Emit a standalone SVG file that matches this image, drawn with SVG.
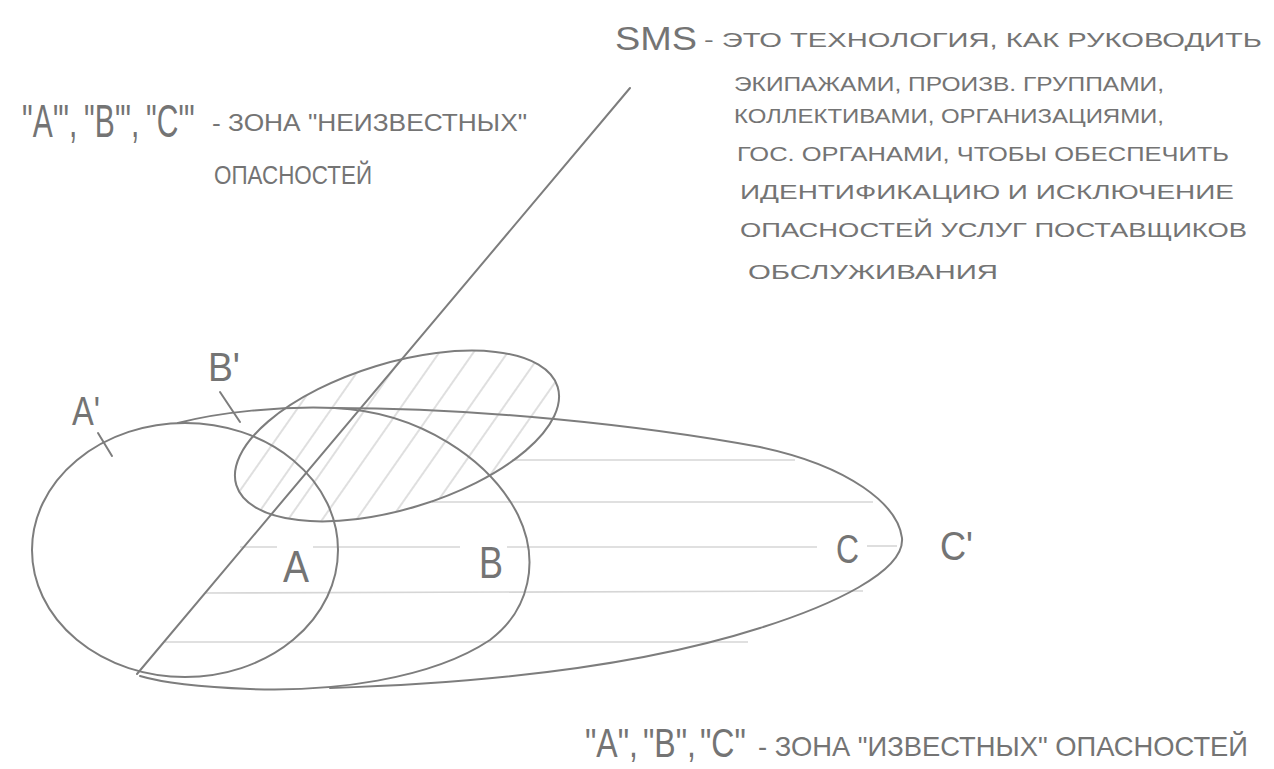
<svg xmlns="http://www.w3.org/2000/svg" width="1274" height="769" viewBox="0 0 1274 769">
<style>
.ln{fill:none;stroke:#7d7d7d;stroke-width:2;stroke-linecap:round}
.hl{fill:none;stroke:#d6d6d6;stroke-width:1.6}
.t{font-family:"Liberation Sans","DejaVu Sans",sans-serif;fill:#747474}
</style>
<defs>
<pattern id="hatch" width="28" height="20" patternUnits="userSpaceOnUse" patternTransform="rotate(35)">
<line x1="2" y1="0" x2="2" y2="20" stroke="#d4d4d4" stroke-width="1.5"/>
</pattern>
<clipPath id="bpclip"><ellipse cx="397" cy="436" rx="168" ry="73" transform="rotate(-17 397 436)"/></clipPath>
</defs>
<rect width="1274" height="769" fill="#fff"/>

<g id="hatching">
<rect x="220" y="330" width="360" height="210" fill="url(#hatch)" clip-path="url(#bpclip)"/>
<line class="hl" x1="512" y1="460" x2="795" y2="460"/>
<line class="hl" x1="432" y1="502" x2="873" y2="502"/>
<line class="hl" x1="240" y1="547" x2="277" y2="547"/>
<line class="hl" x1="313" y1="547" x2="460" y2="547"/>
<line class="hl" x1="507" y1="547" x2="817" y2="547"/>
<line class="hl" x1="867" y1="546" x2="897" y2="546"/>
<line class="hl" x1="205" y1="593" x2="863" y2="591"/>
<line class="hl" x1="165" y1="642" x2="748" y2="642"/>
</g>

<g id="zone-A">
<ellipse class="ln" cx="185" cy="550" rx="153" ry="127"/>
<text class="t" x="283" y="582" font-size="44" textLength="26" lengthAdjust="spacingAndGlyphs">A</text>
</g>
<g id="zone-B">
<path class="ln" d="M178,423 C220,412 280,406 335,408 C420,412 490,460 518,515 C540,560 530,610 490,640 C430,680 330,692 250,689 C200,687 160,682 140,676"/>
<text class="t" x="479" y="578" font-size="44" textLength="24" lengthAdjust="spacingAndGlyphs">B</text>
</g>
<g id="zone-C">
<path class="ln" d="M333,408 C480,408 640,425 760,447 C850,466 898,505 902,538 C905,572 830,606 760,628 C660,660 520,682 330,688"/>
<text class="t" x="836" y="563" font-size="40" textLength="23" lengthAdjust="spacingAndGlyphs">C</text>
</g>
<g id="zone-Bprime">
<ellipse class="ln" cx="397" cy="436" rx="168" ry="73" transform="rotate(-17 397 436)"/>
</g>
<g id="label-Aprime">
<text class="t" x="72" y="425" font-size="40" textLength="28" lengthAdjust="spacingAndGlyphs">A'</text>
</g>
<g id="label-Bprime">
<text class="t" x="208" y="381" font-size="40" textLength="32" lengthAdjust="spacingAndGlyphs">B'</text>
</g>
<g id="label-Cprime">
<text class="t" x="940" y="560" font-size="40" textLength="33" lengthAdjust="spacingAndGlyphs">C'</text>
</g>

<g id="connectors">
<line class="ln" x1="630" y1="88" x2="137" y2="674"/>
<line class="ln" x1="98" y1="433" x2="112" y2="456"/>
<line class="ln" x1="220" y1="392" x2="240" y2="422"/>
</g>

<g id="sms-note">
<text class="t" x="615" y="50" font-size="34" textLength="82" lengthAdjust="spacingAndGlyphs">SMS</text>
<text class="t" x="704" y="47" font-size="21" textLength="558" lengthAdjust="spacingAndGlyphs">- ЭТО ТЕХНОЛОГИЯ, КАК РУКОВОДИТЬ</text>
<text class="t" x="734" y="91" font-size="21" textLength="430" lengthAdjust="spacingAndGlyphs">ЭКИПАЖАМИ, ПРОИЗВ. ГРУППАМИ,</text>
<text class="t" x="734" y="123" font-size="21" textLength="430" lengthAdjust="spacingAndGlyphs">КОЛЛЕКТИВАМИ, ОРГАНИЗАЦИЯМИ,</text>
<text class="t" x="737" y="161" font-size="21" textLength="492" lengthAdjust="spacingAndGlyphs">ГОС. ОРГАНАМИ, ЧТОБЫ ОБЕСПЕЧИТЬ</text>
<text class="t" x="740" y="199" font-size="21" textLength="494" lengthAdjust="spacingAndGlyphs">ИДЕНТИФИКАЦИЮ И ИСКЛЮЧЕНИЕ</text>
<text class="t" x="740" y="237" font-size="21" textLength="507" lengthAdjust="spacingAndGlyphs">ОПАСНОСТЕЙ УСЛУГ ПОСТАВЩИКОВ</text>
<text class="t" x="748" y="279" font-size="21" textLength="250" lengthAdjust="spacingAndGlyphs">ОБСЛУЖИВАНИЯ</text>
</g>

<g id="unknown-note">
<text class="t" font-size="30" transform="translate(22,137) scale(1,1.55)">"A'",</text>
<text class="t" font-size="30" transform="translate(84,137) scale(1,1.55)">"B'",</text>
<text class="t" font-size="30" transform="translate(146,137) scale(1,1.55)">"C'"</text>
<text class="t" x="212" y="131" font-size="24" textLength="315" lengthAdjust="spacingAndGlyphs">- ЗОНА "НЕИЗВЕСТНЫХ"</text>
<text class="t" x="214" y="184" font-size="26" textLength="158" lengthAdjust="spacingAndGlyphs">ОПАСНОСТЕЙ</text>
</g>

<g id="known-note">
<text class="t" font-size="32" transform="translate(585,757) scale(1,1.25)">"A",</text>
<text class="t" font-size="32" transform="translate(643,757) scale(1,1.25)">"B",</text>
<text class="t" font-size="32" transform="translate(700,757) scale(1,1.25)">"C"</text>
<text class="t" x="758" y="756" font-size="28" textLength="490" lengthAdjust="spacingAndGlyphs">- ЗОНА "ИЗВЕСТНЫХ" ОПАСНОСТЕЙ</text>
</g>
</svg>
